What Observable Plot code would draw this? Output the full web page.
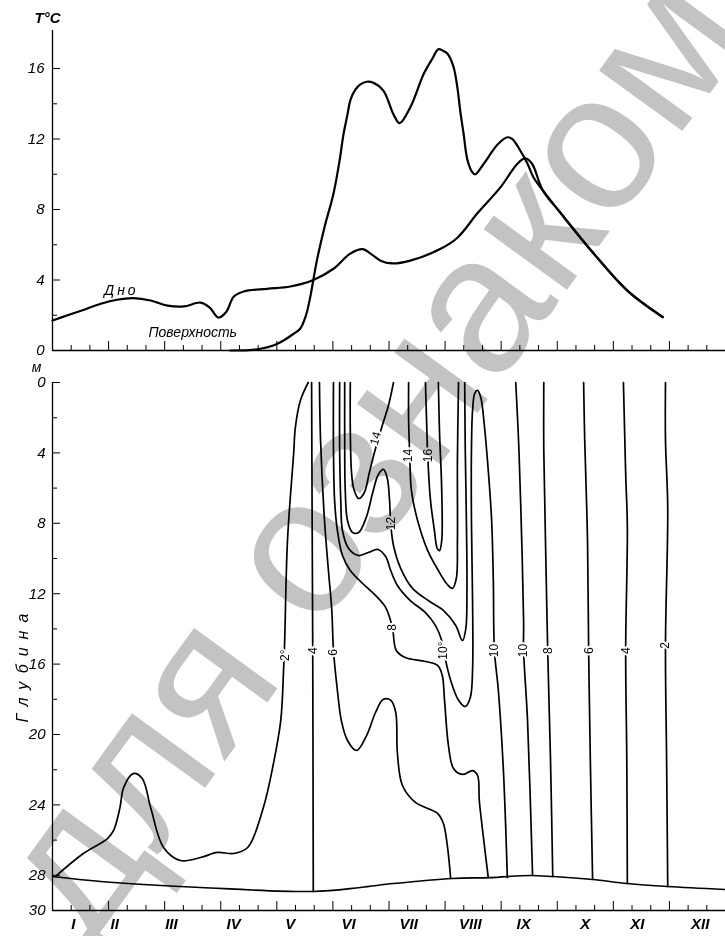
<!DOCTYPE html>
<html><head><meta charset="utf-8">
<script src="https://cdn.jsdelivr.net/npm/d3@7"></script>
<script src="https://cdn.jsdelivr.net/npm/@observablehq/plot@0.6"></script>
<style>
body{margin:0;background:#fff;}
#wrap{position:relative;width:725px;height:936px;overflow:hidden;background:#fff;}
#wrap svg{display:block;}
#wm{position:absolute;left:-44px;top:850px;font:195px "Liberation Sans",sans-serif;color:#c3c3c3;transform-origin:0 0;transform:rotate(-54deg);white-space:nowrap;mix-blend-mode:multiply;line-height:1;pointer-events:none;}
</style></head>
<body><div id="wrap"></div>
<script>
// ---------- data ----------
const monthNames = ["I","II","III","IV","V","VI","VII","VIII","IX","X","XI","XII"];
const monthLabelPos = [0.37,1.11,2.12,3.23,4.24,5.28,6.35,7.45,8.40,9.50,10.43,11.55];
const tempTicks = [0,4,8,12,16];
const tempMinorTicks = [2,6,10,14];
const depthTicks = [0,4,8,12,16,20,24,28];
const depthMinorTicks = [2,6,10,14,18,22,26];
const depthEndTick = [30];

// top panel: [month, °C]
const bottomTemp = [[0,1.7],[0.27,2.0],[0.55,2.3],[0.86,2.65],[1.15,2.88],[1.44,2.97],[1.75,2.84],[2.05,2.55],[2.34,2.5],[2.64,2.72],[2.80,2.45],[2.96,1.87],[3.10,2.2],[3.23,3.05],[3.41,3.35],[3.83,3.5],[4.24,3.63],[4.65,4.0],[5.01,4.64],[5.31,5.5],[5.53,5.75],[5.67,5.5],[5.85,5.1],[6.06,4.94],[6.38,5.1],[6.92,5.77],[7.22,6.4],[7.58,7.8],[7.99,9.27],[8.29,10.6],[8.43,10.9],[8.55,10.6],[8.74,9.1],[9.06,7.8],[9.65,5.5],[10.25,3.4],[10.88,1.9]];
const surfaceTemp = [[3.17,0],[3.5,0.02],[3.71,0.1],[3.95,0.3],[4.12,0.57],[4.30,0.95],[4.42,1.25],[4.52,2.0],[4.60,3.1],[4.65,4.0],[4.72,5.2],[4.85,7.0],[5.01,8.9],[5.12,10.8],[5.19,12.3],[5.26,13.4],[5.31,14.2],[5.40,14.8],[5.49,15.1],[5.60,15.25],[5.72,15.2],[5.90,14.75],[6.08,13.4],[6.19,12.9],[6.38,13.8],[6.62,15.7],[6.78,16.6],[6.88,17.1],[6.97,17.0],[7.04,16.85],[7.15,16.1],[7.22,14.9],[7.27,13.6],[7.33,12.3],[7.40,10.8],[7.49,10.1],[7.54,10.0],[7.69,10.6],[7.94,11.7],[8.11,12.1],[8.20,12.0],[8.34,11.35],[8.47,10.6],[8.58,9.8],[8.74,9.1],[9.06,7.8],[9.65,5.5],[10.25,3.4],[10.88,1.9]];
const curveNames = ["Дно","Поверхность"];
const curveLabelMonth = [1.23,2.5];
const curveLabelTemp = [3.4,1.02];

// bottom panel: [month, depth m]
const lakeBottom = [[0,28.07],[0.86,28.35],[2.64,28.69],[4.64,28.92],[5.49,28.69],[6.08,28.47],[7.13,28.18],[7.8,28.13],[8.52,28.01],[8.93,28.07],[9.63,28.24],[10.25,28.47],[10.97,28.64],[12,28.81]];
const iso2a = [[0.05,28.07],[0.55,26.76],[0.98,25.91],[1.09,25.45],[1.20,24.2],[1.27,23.0],[1.44,22.22],[1.60,22.5],[1.75,24.15],[1.98,26.42],[2.28,27.16],[2.64,26.99],[2.94,26.7],[3.23,26.76],[3.48,26.42],[3.76,24.15],[3.94,21.65],[4.07,19.2],[4.12,16.36],[4.14,14.66],[4.19,8.98],[4.30,4.03],[4.33,2.56],[4.42,1.02],[4.56,0]];
const iso4a = [[4.62,0],[4.63,8],[4.64,15.2],[4.65,28.92]];
const iso6a = [[4.76,0],[4.78,3.3],[4.85,7.84],[4.92,10.68],[4.98,12.95],[5.01,15.23],[5.08,17.5],[5.15,19.2],[5.26,20.34],[5.42,20.91],[5.60,20.06],[5.76,18.75],[5.90,18.0],[6.03,18.05],[6.12,18.75],[6.15,21.08],[6.24,22.9],[6.47,23.86],[6.87,24.49],[6.97,25.06],[7.04,26.31],[7.10,28.18]];
const iso8a = [[5.01,0],[5.01,3.86],[5.03,6.7],[5.08,8.41],[5.17,9.83],[5.31,10.68],[5.53,11.42],[5.76,12.1],[5.94,12.78],[6.06,13.92],[6.13,15.23],[6.29,15.63],[6.65,15.85],[6.87,16.08],[6.95,16.65],[6.99,18.05],[7.06,20.63],[7.15,21.93],[7.31,22.27],[7.49,22.05],[7.58,22.33],[7.61,23.75],[7.69,26.02],[7.77,28.13]];
const iso10a = [[5.12,0],[5.12,3.86],[5.14,6.7],[5.17,8.41],[5.28,9.43],[5.46,9.83],[5.63,9.66],[5.80,9.49],[5.94,9.89],[6.03,10.68],[6.15,11.53],[6.38,12.39],[6.65,13.07],[6.83,13.81],[6.94,14.66],[6.99,15.51],[7.10,16.93],[7.24,18.05],[7.36,18.41],[7.45,17.9],[7.49,16.36],[7.49,12.39],[7.47,7.84],[7.47,3.86],[7.49,1.59],[7.53,0.6],[7.58,0.45],[7.64,0.9],[7.70,2.44],[7.77,5.0],[7.83,7.84],[7.86,11.25],[7.88,15.23],[7.95,17.5],[8.04,22.05],[8.11,28.13]];
const iso12a = [[5.21,0],[5.21,3.3],[5.22,6.14],[5.26,7.84],[5.35,8.52],[5.46,8.52],[5.60,7.61],[5.71,6.25],[5.81,5.23],[5.90,4.94],[5.97,5.45],[6.01,6.70],[6.03,8.01],[6.08,9.26],[6.21,10.57],[6.42,11.70],[6.70,12.39],[6.97,12.95],[7.19,13.81],[7.31,14.66],[7.37,13.98],[7.39,11.82],[7.38,7.84],[7.36,3.86],[7.35,0]];
const iso14a = [[5.31,0],[5.31,2.73],[5.33,5.0],[5.37,6.02],[5.46,6.59],[5.56,6.25],[5.65,5.11],[5.76,3.75],[5.88,2.44],[5.99,1.31],[6.08,0]];
const iso14b = [[6.35,0],[6.35,2.16],[6.37,4.15],[6.40,6.14],[6.51,7.84],[6.69,9.55],[6.88,10.68],[7.04,11.48],[7.13,11.70],[7.20,11.14],[7.22,8.98],[7.22,4.43],[7.24,0]];
const iso16a = [[6.65,0],[6.67,2.16],[6.69,4.15],[6.74,6.70],[6.81,8.41],[6.86,9.43],[6.90,9.55],[6.94,8.98],[6.94,6.14],[6.90,2.73],[6.88,0]];
const iso10b = [[8.26,0],[8.31,3.30],[8.35,7.10],[8.40,13.52],[8.40,15.23],[8.47,19.2],[8.56,28.01]];
const iso8b = [[8.76,0],[8.76,3.86],[8.79,8.98],[8.83,15.23],[8.88,21.48],[8.92,28.07]];
const iso6b = [[9.47,0],[9.49,3.30],[9.54,8.98],[9.56,15.23],[9.59,21.48],[9.63,28.2]];
const iso4b = [[10.18,0],[10.22,5.17],[10.25,8.24],[10.22,15.23],[10.24,21.48],[10.25,28.47]];
const iso2b = [[10.93,0],[10.93,3.30],[10.97,7.10],[10.93,14.94],[10.95,21.48],[10.97,28.64]];

const isoLabelText = ["2°","4","6","14","14","16","12","8","10°","10","10","8","6","4","2"];
const isoLabelMonth = [4.14,4.64,5.01,5.76,6.35,6.69,6.03,6.06,6.97,7.88,8.40,8.83,9.56,10.22,10.93];
const isoLabelDepth = [15.5,15.23,15.34,3.18,4.15,4.15,8.01,13.92,15.23,15.23,15.23,15.23,15.23,15.23,14.94];

// ---------- build ----------
const isoSets = [iso2a,iso4a,iso6a,iso8a,iso10a,iso12a,iso14a,iso14b,iso16a,iso10b,iso8b,iso6b,iso4b,iso2b];
const isoRows = isoSets.flatMap((pts, id) => pts.map(([m, d]) => ({m, d, id})));
const isoLabels = isoLabelText.map((t, i) => ({t, m: isoLabelMonth[i], d: isoLabelDepth[i], r: i === 3 ? -74 : -90}));
const dekads = d3.range(0, 36).map(i => i / 3).filter((v, i) => i % 3 !== 0);
const monthEdges = d3.range(0, 13);
const W = 725, ML = 52, MR = 0;
const innerW = W - ML - MR;
const font = "Liberation Sans, Arial, sans-serif";
const baseStyle = {fontFamily: font, fontStyle: "italic", background: "transparent", overflow: "visible", color: "black"};

// top panel
const topH = 356, topMT = 30, topMB = 6, topInner = topH - topMT - topMB;
const topChart = Plot.plot({
  width: W, height: topH, marginLeft: ML, marginRight: MR, marginTop: topMT, marginBottom: topMB,
  x: {domain: [0, 12], axis: null},
  y: {domain: [0, 18.16], axis: null},
  style: baseStyle,
  marks: [
    Plot.ruleY([0], {stroke: "black", strokeWidth: 1.3}),
    Plot.ruleX([0], {stroke: "black", strokeWidth: 1.3}),
    Plot.tickY(tempTicks, {y: d => d, insetRight: innerW - 8, stroke: "black"}),
    Plot.tickY(tempMinorTicks, {y: d => d, insetRight: innerW - 5, stroke: "black"}),
    Plot.tickX(monthEdges, {x: d => d, insetTop: topInner - 9, stroke: "black"}),
    Plot.tickX(dekads, {x: d => d, insetTop: topInner - 5, stroke: "black"}),
    Plot.text(tempTicks, {x: 0, y: d => d, text: d => String(d), textAnchor: "end", dx: -8, fontSize: 15}),
    Plot.text(["T°C"], {x: 0, y: 18.16, text: d => d, textAnchor: "middle", dx: -5, dy: -12, fontSize: 15, fontWeight: "bold"}),
    Plot.line(bottomTemp, {x: d => d[0], y: d => d[1], curve: "catmull-rom", stroke: "black", strokeWidth: 2.2}),
    Plot.line(surfaceTemp, {x: d => d[0], y: d => d[1], curve: "catmull-rom", stroke: "black", strokeWidth: 2.2}),
    Plot.text(curveNames, {x: (d, i) => curveLabelMonth[i], y: (d, i) => curveLabelTemp[i], text: d => d, fontSize: 14, fill: "black"})
  ]
});

// bottom panel
const botH = 580, botMT = 26, botMB = 26, botInner = botH - botMT - botMB;
const bottomChart = Plot.plot({
  width: W, height: botH, marginLeft: ML, marginRight: MR, marginTop: botMT, marginBottom: botMB,
  x: {domain: [0, 12], axis: null},
  y: {domain: [0, 30], reverse: true, axis: null},
  style: baseStyle,
  marks: [
    Plot.ruleY([30], {stroke: "black", strokeWidth: 1.3}),
    Plot.ruleX([0], {stroke: "black", strokeWidth: 1.3}),
    Plot.tickY(depthTicks, {y: d => d, insetRight: innerW - 8, stroke: "black"}),
    Plot.tickY(depthMinorTicks, {y: d => d, insetRight: innerW - 5, stroke: "black"}),
    Plot.tickX(monthEdges, {x: d => d, insetTop: botInner - 9, stroke: "black"}),
    Plot.tickX(dekads, {x: d => d, insetTop: botInner - 5, stroke: "black"}),
    Plot.text(depthTicks.concat(depthEndTick), {x: 0, y: d => d, text: d => String(d), textAnchor: "end", dx: -7, fontSize: 15}),
    Plot.text(["м"], {x: 0, y: 0, text: d => d, textAnchor: "middle", dx: -16, dy: -15, fontSize: 14}),
    Plot.text(["Глубина"], {x: 0, y: 16.0, text: d => d, rotate: -90, dx: -30, fontSize: 16}),
    Plot.text(monthNames, {x: (d, i) => monthLabelPos[i], y: 30, text: d => d, dy: 14, fontSize: 15, fontWeight: "bold"}),
    Plot.line(lakeBottom, {x: d => d[0], y: d => d[1], curve: "catmull-rom", stroke: "black", strokeWidth: 1.6}),
    Plot.line(isoRows, {x: "m", y: "d", z: "id", curve: "catmull-rom", stroke: "black", strokeWidth: 1.7}),
    Plot.text(isoLabels, {x: "m", y: "d", text: "t", rotate: "r", fontSize: 12, fontStyle: "normal", fill: "black", stroke: "white", strokeWidth: 4, paintOrder: "stroke"})
  ]
});

const wrap = document.getElementById("wrap");
wrap.appendChild(topChart);
wrap.appendChild(bottomChart);
d3.select(bottomChart).selectAll("text").filter(function(){ return this.textContent === "Глубина"; }).attr("letter-spacing", "8px");
d3.select(topChart).selectAll("text").filter(function(){ return this.textContent === "Дно"; }).attr("letter-spacing", "3px");
const wm = document.createElement("div");
wm.id = "wm";
wm.textContent = "для ознаком";
wrap.appendChild(wm);
</script>
</body></html>
